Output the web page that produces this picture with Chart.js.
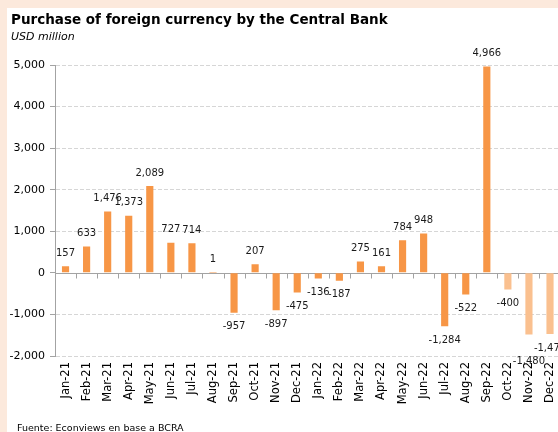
<!DOCTYPE html>
<html>
<head>
<meta charset="utf-8">
<script src="https://cdn.jsdelivr.net/npm/chart.js@4"></script>
<style>
    html, body {
        margin: 0;
        padding: 0;
        width: 558px;
        height: 432px;
        overflow: hidden;
        background: #fce9dc;
        font-family: "DejaVu Sans", sans-serif;
    }
    #panel {
        position: absolute;
        left: 7px;
        top: 8px;
        width: 600px;
        height: 430px;
        background: #ffffff;
    }
    #titulo {
        position: absolute;
        left: 11px;
        top: 11px;
        font-size: 13.5px;
        line-height: 16px;
        font-weight: bold;
        color: #000;
        white-space: nowrap;
    }
    #subtitulo {
        position: absolute;
        left: 11px;
        top: 30px;
        font-size: 11px;
        line-height: 13px;
        font-style: italic;
        color: #000;
    }
    #fuente {
        position: absolute;
        left: 17px;
        top: 422px;
        font-size: 9.5px;
        line-height: 12px;
        color: #000;
        white-space: nowrap;
    }
    #wrap {
        position: absolute;
        left: 7px;
        top: 8px;
        width: 563px;
        height: 424px;
    }
</style>
</head>
<body>
<div id="panel"></div>
<div id="wrap"><canvas id="grafico"></canvas></div>
<div id="titulo">Purchase of foreign currency by the Central Bank</div>
<div id="subtitulo">USD million</div>
<div id="fuente">Fuente: Econviews en base a BCRA</div>

<script>
// =========================
// DATOS
// =========================

const meses = [
    'Jan-21', 'Feb-21', 'Mar-21', 'Apr-21', 'May-21', 'Jun-21',
    'Jul-21', 'Aug-21', 'Sep-21', 'Oct-21', 'Nov-21', 'Dec-21',
    'Jan-22', 'Feb-22', 'Mar-22', 'Apr-22', 'May-22', 'Jun-22',
    'Jul-22', 'Aug-22', 'Sep-22', 'Oct-22', 'Nov-22', 'Dec-22'
];

const compras = [
    157, 633, 1476, 1373, 2089, 727,
    714, 1, -957, 207, -897, -475,
    -136, -187, 275, 161, 784, 948,
    -1284, -522, 4966, -400, -1480, -1470
];

// desde este mes las barras son estimadas
const primerEstimado = 'Oct-22';

const ticksY = [-2000, -1000, 0, 1000, 2000, 3000, 4000, 5000];

const NARANJA = '#f79646';
const NARANJA_CLARO = '#fac08f';
const GRIS_EJE = '#a3a3a3';

const idxEstimado = meses.indexOf(primerEstimado);

const coloresBarras = compras.map((v, i) =>
    i >= idxEstimado ? NARANJA_CLARO : NARANJA
);

const fmt = v => v.toLocaleString('en-US');

// =========================
// PLUGINS
// =========================

// linea del cero con marcas entre meses
const ejeCero = {
    id: 'ejeCero',
    beforeDatasetsDraw(chart) {
        const { ctx, chartArea, scales } = chart;
        const y0 = Math.round(scales.y.getPixelForValue(0)) + 0.5;

        ctx.save();
        ctx.strokeStyle = GRIS_EJE;
        ctx.lineWidth = 1;
        ctx.beginPath();
        ctx.moveTo(chartArea.left, y0);
        ctx.lineTo(chartArea.right, y0);

        for (let i = 0; i <= meses.length; i++) {
            let x;
            if (i === 0) x = chartArea.left;
            else if (i === meses.length) x = chartArea.right;
            else x = (scales.x.getPixelForValue(i - 1) + scales.x.getPixelForValue(i)) / 2;
            x = Math.round(x) + 0.5;
            ctx.moveTo(x, y0);
            ctx.lineTo(x, y0 + 5);
        }
        ctx.stroke();
        ctx.restore();
    }
};

// etiquetas de valor arriba / abajo de cada barra
const etiquetas = {
    id: 'etiquetas',
    afterDatasetsDraw(chart) {
        const { ctx } = chart;
        const barras = chart.getDatasetMeta(0).data;

        ctx.save();
        ctx.font = '10px "DejaVu Sans"';
        ctx.fillStyle = '#1a1a1a';
        ctx.textAlign = 'center';
        ctx.textBaseline = 'middle';

        const cajas = barras.map((b, i) => {
            const v = compras[i];
            const txt = fmt(v);
            const w = ctx.measureText(txt).width;
            const y = v >= 0 ? b.y - 13 : b.y + 14;
            return { txt, x: b.x, y, w, neg: v < 0 };
        });

        // si se pisa mucho con la siguiente, se baja un renglon
        for (let i = 0; i < cajas.length - 1; i++) {
            const a = cajas[i];
            const b = cajas[i + 1];
            const solapeX = (a.w + b.w) / 2 - Math.abs(b.x - a.x);
            const solapeY = 11 - Math.abs(b.y - a.y);
            if (solapeX > 10 && solapeY > 0 && a.neg) {
                a.y += 13;
            }
        }

        cajas.forEach(c => ctx.fillText(c.txt, c.x, c.y));
        ctx.restore();
    }
};

// =========================
// GRÁFICO
// =========================

const chart = new Chart(
    document.getElementById('grafico'),
    {
        type: 'bar',
        data: {
            labels: meses,
            datasets: [{
                label: 'Compras BCRA',
                data: compras,
                backgroundColor: coloresBarras,
                borderWidth: 0,
                categoryPercentage: 1,
                barPercentage: 0.34
            }]
        },
        options: {
            responsive: true,
            maintainAspectRatio: false,
            animation: false,
            layout: {
                padding: { top: 57, right: 9, bottom: 0, left: 0 }
            },
            plugins: {
                legend: { display: false },
                tooltip: { enabled: false }
            },
            scales: {
                x: {
                    grid: { display: false, drawTicks: false },
                    border: { display: false },
                    ticks: {
                        autoSkip: false,
                        minRotation: 90,
                        maxRotation: 90,
                        padding: 6,
                        color: '#000',
                        font: { family: 'DejaVu Sans', size: 11.5 }
                    },
                    afterFit(scale) {
                        scale.height = 76;
                    }
                },
                y: {
                    min: -2000,
                    max: 5000,
                    afterBuildTicks(scale) {
                        scale.ticks = ticksY.map(v => ({ value: v }));
                    },
                    grid: {
                        color: ctx => ctx.tick && ctx.tick.value === 0 ? 'rgba(0,0,0,0)' : '#d6d6d6',
                        tickColor: GRIS_EJE,
                        tickLength: 5,
                        lineWidth: 1
                    },
                    border: {
                        display: true,
                        color: GRIS_EJE,
                        width: 1,
                        dash: [4, 2]
                    },
                    ticks: {
                        padding: 5,
                        color: '#000',
                        font: { family: 'DejaVu Sans', size: 11 },
                        callback: v => fmt(v)
                    },
                    afterFit(scale) {
                        scale.width = 48;
                    }
                }
            }
        },
        plugins: [ejeCero, etiquetas]
    }
);
</script>
</body>
</html>
